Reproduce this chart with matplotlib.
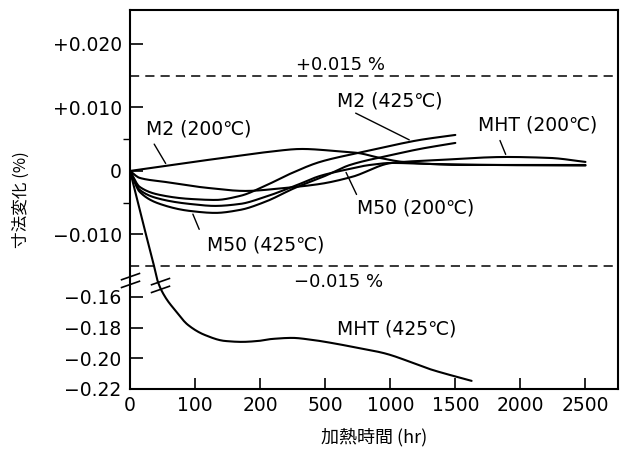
import numpy as np
import matplotlib
matplotlib.use("Agg")
import matplotlib.pyplot as plt
from matplotlib.path import Path

plt.rcParams["font.family"] = ["DejaVu Sans", "Noto Sans CJK JP"]

# heating time (hr) and dimensional change (%) for each steel / temperature
m2_200_hr = [0, 54, 108, 177, 236, 393, 575, 751, 920, 1095, 1304, 1535, 2000, 2500]
m2_200_val = [0, 0.00079, 0.00157, 0.00252, 0.00299, 0.00346, 0.00315, 0.00283, 0.00205, 0.00142,
              0.00110, 0.00094, 0.00094, 0.00094]

m2_425_hr = [0, 15, 46, 92, 131, 169, 222, 337, 476, 751, 997, 1227, 1500]
m2_425_val = [0, -0.00252, -0.00378, -0.00441, -0.00457, -0.00394, -0.00236, -0.00047, 0.00142,
              0.00283, 0.00394, 0.00488, 0.00567]

m50_200_hr = [0, 15, 46, 92, 131, 169, 222, 360, 476, 651, 843, 1012, 1304, 2000, 2500]
m50_200_val = [0, -0.00299, -0.00441, -0.00520, -0.00551, -0.00520, -0.00410, -0.00236, -0.00079,
               0.00016, 0.00094, 0.00126, 0.00110, 0.00090, 0.00085]

m50_425_hr = [0, 15, 46, 92, 131, 169, 222, 360, 499, 690, 1012, 1227, 1500]
m50_425_val = [0, -0.00331, -0.00520, -0.00630, -0.00661, -0.00614, -0.00488, -0.00268, -0.00079,
               0.00094, 0.00252, 0.00346, 0.00441]

mht_200_hr = [0, 15, 54, 120, 177, 314, 476, 705, 1012, 1381, 1896, 2226, 2500]
mht_200_val = [0, -0.00110, -0.00173, -0.00268, -0.00315, -0.00268, -0.00205, -0.00094, 0.00126,
               0.00173, 0.00220, 0.00205, 0.00142]

mht_425_hr = [0, 20, 37, 43, 54, 69, 89, 115, 146, 172, 197, 254, 347, 440, 550, 750, 945, 1325, 1625]
mht_425_val = [0, -0.0082, -0.015, -0.0175, -0.160, -0.1685, -0.1782, -0.1848, -0.1887, -0.1893,
               -0.1887, -0.1874, -0.1867, -0.188, -0.190, -0.1932, -0.1965, -0.2076, -0.2147]

x_ticks = [0, 100, 200, 500, 1000, 1500, 2000, 2500]
y_ticks = [0.020, 0.010, 0, -0.010, -0.16, -0.18, -0.20, -0.22]
y_ticklabels = ["+0.020", "+0.010", "0", "\u22120.010", "\u22120.16", "\u22120.18", "\u22120.20", "\u22120.22"]
limit = 0.015

# x axis: tick values are equally spaced
x_knots = [-100] + x_ticks + [3000]
x_pos = list(range(-1, len(x_ticks) + 1))


def x_fwd(x):
    return np.interp(x, x_knots, x_pos)


def x_inv(p):
    return np.interp(p, x_pos, x_knots)


# y axis: broken between -0.0175 and -0.1505, different scale below the break
y_knots = [-1.0, -0.1505, -0.0175, 1.0]
y_pos = [-126 + (-1.0 + 0.16) * 1535, -111.4, -111.1, 6350]


def y_fwd(v):
    return np.interp(v, y_knots, y_pos)


def y_inv(u):
    return np.interp(u, y_pos, y_knots)


def pchip(x, y, xs):
    # monotone cubic (Fritsch-Carlson) so the curves don't overshoot
    x = np.asarray(x, float)
    y = np.asarray(y, float)
    h = np.diff(x)
    delta = np.diff(y) / h
    d = np.zeros_like(y)
    d[0], d[-1] = delta[0], delta[-1]
    for k in range(1, len(x) - 1):
        if delta[k - 1] * delta[k] > 0:
            w1 = 2 * h[k] + h[k - 1]
            w2 = h[k] + 2 * h[k - 1]
            d[k] = (w1 + w2) / (w1 / delta[k - 1] + w2 / delta[k])
    idx = np.clip(np.searchsorted(x, xs) - 1, 0, len(x) - 2)
    t = (xs - x[idx]) / h[idx]
    h00 = 2 * t**3 - 3 * t**2 + 1
    h10 = t**3 - 2 * t**2 + t
    h01 = -2 * t**3 + 3 * t**2
    h11 = t**3 - t**2
    return h00 * y[idx] + h10 * h[idx] * d[idx] + h01 * y[idx + 1] + h11 * h[idx] * d[idx + 1]


def smooth_curve(hr, val):
    # smooth in axis space, then map back to data units
    p = x_fwd(np.asarray(hr, float))
    q = y_fwd(np.asarray(val, float))
    pf = np.linspace(p[0], p[-1], 400)
    qf = pchip(p, q, pf)
    return x_inv(pf), y_inv(qf)


fig = plt.figure(figsize=(6.24, 4.5), dpi=100)
ax = fig.add_axes([130 / 624, 61 / 450, 488 / 624, 379 / 450])
ax.set_xscale("function", functions=(x_fwd, x_inv))
ax.set_yscale("function", functions=(y_fwd, y_inv))
ax.set_xlim(0, 2750)
ax.set_ylim(-0.22, 0.02535)

lw = 1.5
for hr, val in [(m2_200_hr, m2_200_val), (m2_425_hr, m2_425_val), (m50_200_hr, m50_200_val),
                (m50_425_hr, m50_425_val), (mht_200_hr, mht_200_val), (mht_425_hr, mht_425_val)]:
    xs, ys = smooth_curve(hr, val)
    ax.plot(xs, ys, color="black", lw=lw, solid_capstyle="round")

ax.axhline(limit, color="black", lw=1.1, ls=(0, (6, 4)))
ax.axhline(-limit, color="black", lw=1.1, ls=(0, (6, 4)))
ax.text(615, limit + 0.0017, "+0.015 %", fontsize=13, ha="center", va="center")
ax.text(600, -limit - 0.0027, "\u22120.015 %", fontsize=13, ha="center", va="center")

# curve labels with leader lines
labels = [
    ("M2 (200\u2103)", (57, 0.0008), (35, 0.0046), (106, 0.0066)),
    ("M2 (425\u2103)", (1165, 0.0047), (715, 0.0093), (995, 0.0110)),
    ("MHT (200\u2103)", (1895, 0.0022), (1835, 0.0052), (2135, 0.0072)),
    ("M50 (200\u2103)", (651, 0.00016), (750, -0.0041), (1195, -0.0058)),
    ("M50 (425\u2103)", (95, -0.0064), (108, -0.0096), (227, -0.0117)),
]
for text, tip, tail, pos in labels:
    ax.annotate("", xy=tip, xytext=tail, arrowprops=dict(arrowstyle="-", lw=1.0, color="black"))
    ax.text(pos[0], pos[1], text, fontsize=13.5, ha="center", va="center")
ax.text(1050, -0.1808, "MHT (425\u2103)", fontsize=13.5, ha="center", va="center")

# break marks on the y axis and on the MHT (425) curve
brk = Path([(-1, 0.05), (1, 0.75), (-1, -0.75), (1, -0.05)],
           [Path.MOVETO, Path.LINETO, Path.MOVETO, Path.LINETO])
ax.plot([0], [-0.0172], marker=brk, ms=14, mew=1.2, color="black", clip_on=False, ls="none")
ax.plot([46], [-0.1522], marker=brk, ms=14, mew=1.2, color="black", clip_on=False, ls="none")

ax.set_xticks(x_ticks)
ax.set_xticklabels([str(t) for t in x_ticks])
ax.set_yticks(y_ticks)
ax.set_yticklabels(y_ticklabels)
ax.set_yticks([0.005, -0.005], minor=True)
ax.xaxis.set_minor_locator(matplotlib.ticker.NullLocator())
ax.tick_params(axis="both", direction="in", labelsize=13.5, width=1.2, colors="black")
ax.tick_params(axis="y", which="major", length=9, pad=6)
ax.tick_params(axis="y", which="minor", length=5, width=1.0)
ax.tick_params(axis="x", which="major", length=8, pad=5)
for sp in ax.spines.values():
    sp.set_linewidth(1.5)

ax.set_xlabel("加熱時間 (hr)", fontsize=13, family=["Noto Sans CJK JP", "DejaVu Sans"], labelpad=9)
ax.set_ylabel("寸法変化 (%)", fontsize=12, family=["Noto Sans CJK JP", "DejaVu Sans"])
ax.yaxis.set_label_coords(-0.205, 0.5)

fig.savefig("out.png", dpi=100)
